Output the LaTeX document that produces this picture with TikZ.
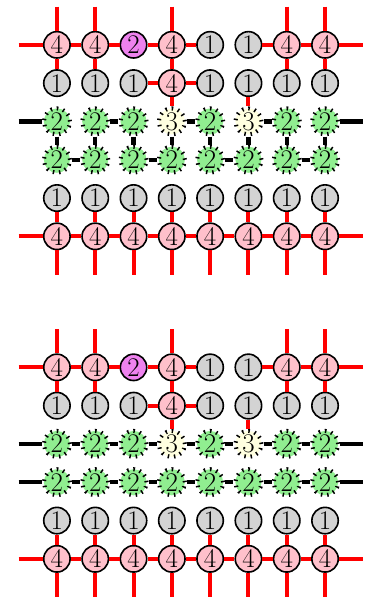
\documentclass[tikz,border=0pt]{standalone}
\usepackage{fontspec}
\definecolor{pinkv}{RGB}{255,192,203}
\definecolor{grayv}{RGB}{211,211,211}
\definecolor{violetv}{RGB}{238,130,238}
\definecolor{greenv}{RGB}{144,238,144}
\definecolor{yellowv}{RGB}{255,255,224}
\definecolor{redv}{RGB}{255,0,0}
\begin{document}
\begin{tikzpicture}[
  site/.style={circle, draw=black, line width=1.2pt, minimum size=19.6pt, inner sep=0pt, font=\fontsize{20}{20}\selectfont},
  fourv/.style={site, fill=pinkv},
  onev/.style={site, fill=grayv},
  twov/.style={site, fill=violetv},
  dashv/.style={site, line width=3pt, minimum size=19.4pt, dash pattern=on 1.1pt off 3.6pt},
  greenv/.style={dashv, fill=greenv},
  threev/.style={dashv, fill=yellowv},
  redb/.style={draw=redv, line width=3pt},
  blackb/.style={draw=black, line width=3.2pt}]
\useasboundingbox (-0.486,1.17) rectangle (9.07,-14.52);

% upper picture
\coordinate (a11n) at (1,1);
\coordinate (a12n) at (2,1);
\coordinate (a14n) at (4,1);
\coordinate (a17n) at (7,1);
\coordinate (a18n) at (8,1);
\coordinate (a1w) at (0,0);
\coordinate (a1e) at (9,0);
\coordinate (a3w) at (0,-2);
\coordinate (a3e) at (9,-2);
\coordinate (a6w) at (0,-5);
\coordinate (a6e) at (9,-5);
\coordinate (a61s) at (1,-6);
\coordinate (a62s) at (2,-6);
\coordinate (a63s) at (3,-6);
\coordinate (a64s) at (4,-6);
\coordinate (a65s) at (5,-6);
\coordinate (a66s) at (6,-6);
\coordinate (a67s) at (7,-6);
\coordinate (a68s) at (8,-6);

\node[fourv] (a11) at (1,0) {4};
\node[fourv] (a12) at (2,0) {4};
\node[twov] (a13) at (3,0) {2};
\node[fourv] (a14) at (4,0) {4};
\node[onev] (a15) at (5,0) {1};
\node[onev] (a16) at (6,0) {1};
\node[fourv] (a17) at (7,0) {4};
\node[fourv] (a18) at (8,0) {4};

\node[onev] (a21) at (1,-1) {1};
\node[onev] (a22) at (2,-1) {1};
\node[onev] (a23) at (3,-1) {1};
\node[fourv] (a24) at (4,-1) {4};
\node[onev] (a25) at (5,-1) {1};
\node[onev] (a26) at (6,-1) {1};
\node[onev] (a27) at (7,-1) {1};
\node[onev] (a28) at (8,-1) {1};

\node[greenv] (a31) at (1,-2) {2};
\node[greenv] (a32) at (2,-2) {2};
\node[greenv] (a33) at (3,-2) {2};
\node[threev] (a34) at (4,-2) {3};
\node[greenv] (a35) at (5,-2) {2};
\node[threev] (a36) at (6,-2) {3};
\node[greenv] (a37) at (7,-2) {2};
\node[greenv] (a38) at (8,-2) {2};

\node[greenv] (a41) at (1,-3) {2};
\node[greenv] (a42) at (2,-3) {2};
\node[greenv] (a43) at (3,-3) {2};
\node[greenv] (a44) at (4,-3) {2};
\node[greenv] (a45) at (5,-3) {2};
\node[greenv] (a46) at (6,-3) {2};
\node[greenv] (a47) at (7,-3) {2};
\node[greenv] (a48) at (8,-3) {2};

\node[onev] (a51) at (1,-4) {1};
\node[onev] (a52) at (2,-4) {1};
\node[onev] (a53) at (3,-4) {1};
\node[onev] (a54) at (4,-4) {1};
\node[onev] (a55) at (5,-4) {1};
\node[onev] (a56) at (6,-4) {1};
\node[onev] (a57) at (7,-4) {1};
\node[onev] (a58) at (8,-4) {1};

\node[fourv] (a61) at (1,-5) {4};
\node[fourv] (a62) at (2,-5) {4};
\node[fourv] (a63) at (3,-5) {4};
\node[fourv] (a64) at (4,-5) {4};
\node[fourv] (a65) at (5,-5) {4};
\node[fourv] (a66) at (6,-5) {4};
\node[fourv] (a67) at (7,-5) {4};
\node[fourv] (a68) at (8,-5) {4};

\draw[redb] (a1w) -- (a11) -- (a12) -- (a13) -- (a14) -- (a15);
\draw[redb] (a16) -- (a17) -- (a18) -- (a1e);
\draw[redb] (a11n) -- (a11) -- (a21);
\draw[redb] (a12n) -- (a12) -- (a22);
\draw[redb] (a14n) -- (a14) -- (a24) -- (a34);
\draw[redb] (a17n) -- (a17) -- (a27);
\draw[redb] (a18n) -- (a18) -- (a28);
\draw[redb] (a23) -- (a24) -- (a25);
\draw[redb] (a26) -- (a36);
\draw[blackb] (a3w) -- (a31);
\draw[blackb] (a32) -- (a33);
\draw[blackb] (a34) -- (a35);
\draw[blackb] (a36) -- (a37);
\draw[blackb] (a38) -- (a3e);
\draw[blackb] (a31) -- (a41);
\draw[blackb] (a32) -- (a42);
\draw[blackb] (a33) -- (a43);
\draw[blackb] (a34) -- (a44);
\draw[blackb] (a35) -- (a45);
\draw[blackb] (a36) -- (a46);
\draw[blackb] (a37) -- (a47);
\draw[blackb] (a38) -- (a48);
\draw[blackb] (a41) -- (a42);
\draw[blackb] (a43) -- (a44);
\draw[blackb] (a45) -- (a46);
\draw[blackb] (a47) -- (a48);
\draw[redb] (a51) -- (a61) -- (a61s);
\draw[redb] (a52) -- (a62) -- (a62s);
\draw[redb] (a53) -- (a63) -- (a63s);
\draw[redb] (a54) -- (a64) -- (a64s);
\draw[redb] (a55) -- (a65) -- (a65s);
\draw[redb] (a56) -- (a66) -- (a66s);
\draw[redb] (a57) -- (a67) -- (a67s);
\draw[redb] (a58) -- (a68) -- (a68s);
\draw[redb] (a6w) -- (a61) -- (a62) -- (a63) -- (a64) -- (a65) -- (a66) -- (a67) -- (a68) -- (a6e);

% lower picture
\coordinate (b11n) at (1,-7.42);
\coordinate (b12n) at (2,-7.42);
\coordinate (b14n) at (4,-7.42);
\coordinate (b17n) at (7,-7.42);
\coordinate (b18n) at (8,-7.42);
\coordinate (b1w) at (0,-8.42);
\coordinate (b1e) at (9,-8.42);
\coordinate (b3w) at (0,-10.42);
\coordinate (b3e) at (9,-10.42);
\coordinate (b4w) at (0,-11.42);
\coordinate (b4e) at (9,-11.42);
\coordinate (b6w) at (0,-13.42);
\coordinate (b6e) at (9,-13.42);
\coordinate (b61s) at (1,-14.42);
\coordinate (b62s) at (2,-14.42);
\coordinate (b63s) at (3,-14.42);
\coordinate (b64s) at (4,-14.42);
\coordinate (b65s) at (5,-14.42);
\coordinate (b66s) at (6,-14.42);
\coordinate (b67s) at (7,-14.42);
\coordinate (b68s) at (8,-14.42);

\node[fourv] (b11) at (1,-8.42) {4};
\node[fourv] (b12) at (2,-8.42) {4};
\node[twov] (b13) at (3,-8.42) {2};
\node[fourv] (b14) at (4,-8.42) {4};
\node[onev] (b15) at (5,-8.42) {1};
\node[onev] (b16) at (6,-8.42) {1};
\node[fourv] (b17) at (7,-8.42) {4};
\node[fourv] (b18) at (8,-8.42) {4};

\node[onev] (b21) at (1,-9.42) {1};
\node[onev] (b22) at (2,-9.42) {1};
\node[onev] (b23) at (3,-9.42) {1};
\node[fourv] (b24) at (4,-9.42) {4};
\node[onev] (b25) at (5,-9.42) {1};
\node[onev] (b26) at (6,-9.42) {1};
\node[onev] (b27) at (7,-9.42) {1};
\node[onev] (b28) at (8,-9.42) {1};

\node[greenv] (b31) at (1,-10.42) {2};
\node[greenv] (b32) at (2,-10.42) {2};
\node[greenv] (b33) at (3,-10.42) {2};
\node[threev] (b34) at (4,-10.42) {3};
\node[greenv] (b35) at (5,-10.42) {2};
\node[threev] (b36) at (6,-10.42) {3};
\node[greenv] (b37) at (7,-10.42) {2};
\node[greenv] (b38) at (8,-10.42) {2};

\node[greenv] (b41) at (1,-11.42) {2};
\node[greenv] (b42) at (2,-11.42) {2};
\node[greenv] (b43) at (3,-11.42) {2};
\node[greenv] (b44) at (4,-11.42) {2};
\node[greenv] (b45) at (5,-11.42) {2};
\node[greenv] (b46) at (6,-11.42) {2};
\node[greenv] (b47) at (7,-11.42) {2};
\node[greenv] (b48) at (8,-11.42) {2};

\node[onev] (b51) at (1,-12.42) {1};
\node[onev] (b52) at (2,-12.42) {1};
\node[onev] (b53) at (3,-12.42) {1};
\node[onev] (b54) at (4,-12.42) {1};
\node[onev] (b55) at (5,-12.42) {1};
\node[onev] (b56) at (6,-12.42) {1};
\node[onev] (b57) at (7,-12.42) {1};
\node[onev] (b58) at (8,-12.42) {1};

\node[fourv] (b61) at (1,-13.42) {4};
\node[fourv] (b62) at (2,-13.42) {4};
\node[fourv] (b63) at (3,-13.42) {4};
\node[fourv] (b64) at (4,-13.42) {4};
\node[fourv] (b65) at (5,-13.42) {4};
\node[fourv] (b66) at (6,-13.42) {4};
\node[fourv] (b67) at (7,-13.42) {4};
\node[fourv] (b68) at (8,-13.42) {4};

\draw[redb] (b1w) -- (b11) -- (b12) -- (b13) -- (b14) -- (b15);
\draw[redb] (b16) -- (b17) -- (b18) -- (b1e);
\draw[redb] (b11n) -- (b11) -- (b21);
\draw[redb] (b12n) -- (b12) -- (b22);
\draw[redb] (b14n) -- (b14) -- (b24) -- (b34);
\draw[redb] (b17n) -- (b17) -- (b27);
\draw[redb] (b18n) -- (b18) -- (b28);
\draw[redb] (b23) -- (b24) -- (b25);
\draw[redb] (b26) -- (b36);
\draw[blackb] (b3w) -- (b31) -- (b32) -- (b33) -- (b34) -- (b35) -- (b36) -- (b37) -- (b38) -- (b3e);
\draw[blackb] (b4w) -- (b41) -- (b42) -- (b43) -- (b44) -- (b45) -- (b46) -- (b47) -- (b48) -- (b4e);
\draw[redb] (b51) -- (b61) -- (b61s);
\draw[redb] (b52) -- (b62) -- (b62s);
\draw[redb] (b53) -- (b63) -- (b63s);
\draw[redb] (b54) -- (b64) -- (b64s);
\draw[redb] (b55) -- (b65) -- (b65s);
\draw[redb] (b56) -- (b66) -- (b66s);
\draw[redb] (b57) -- (b67) -- (b67s);
\draw[redb] (b58) -- (b68) -- (b68s);
\draw[redb] (b6w) -- (b61) -- (b62) -- (b63) -- (b64) -- (b65) -- (b66) -- (b67) -- (b68) -- (b6e);
\end{tikzpicture}
\end{document}
